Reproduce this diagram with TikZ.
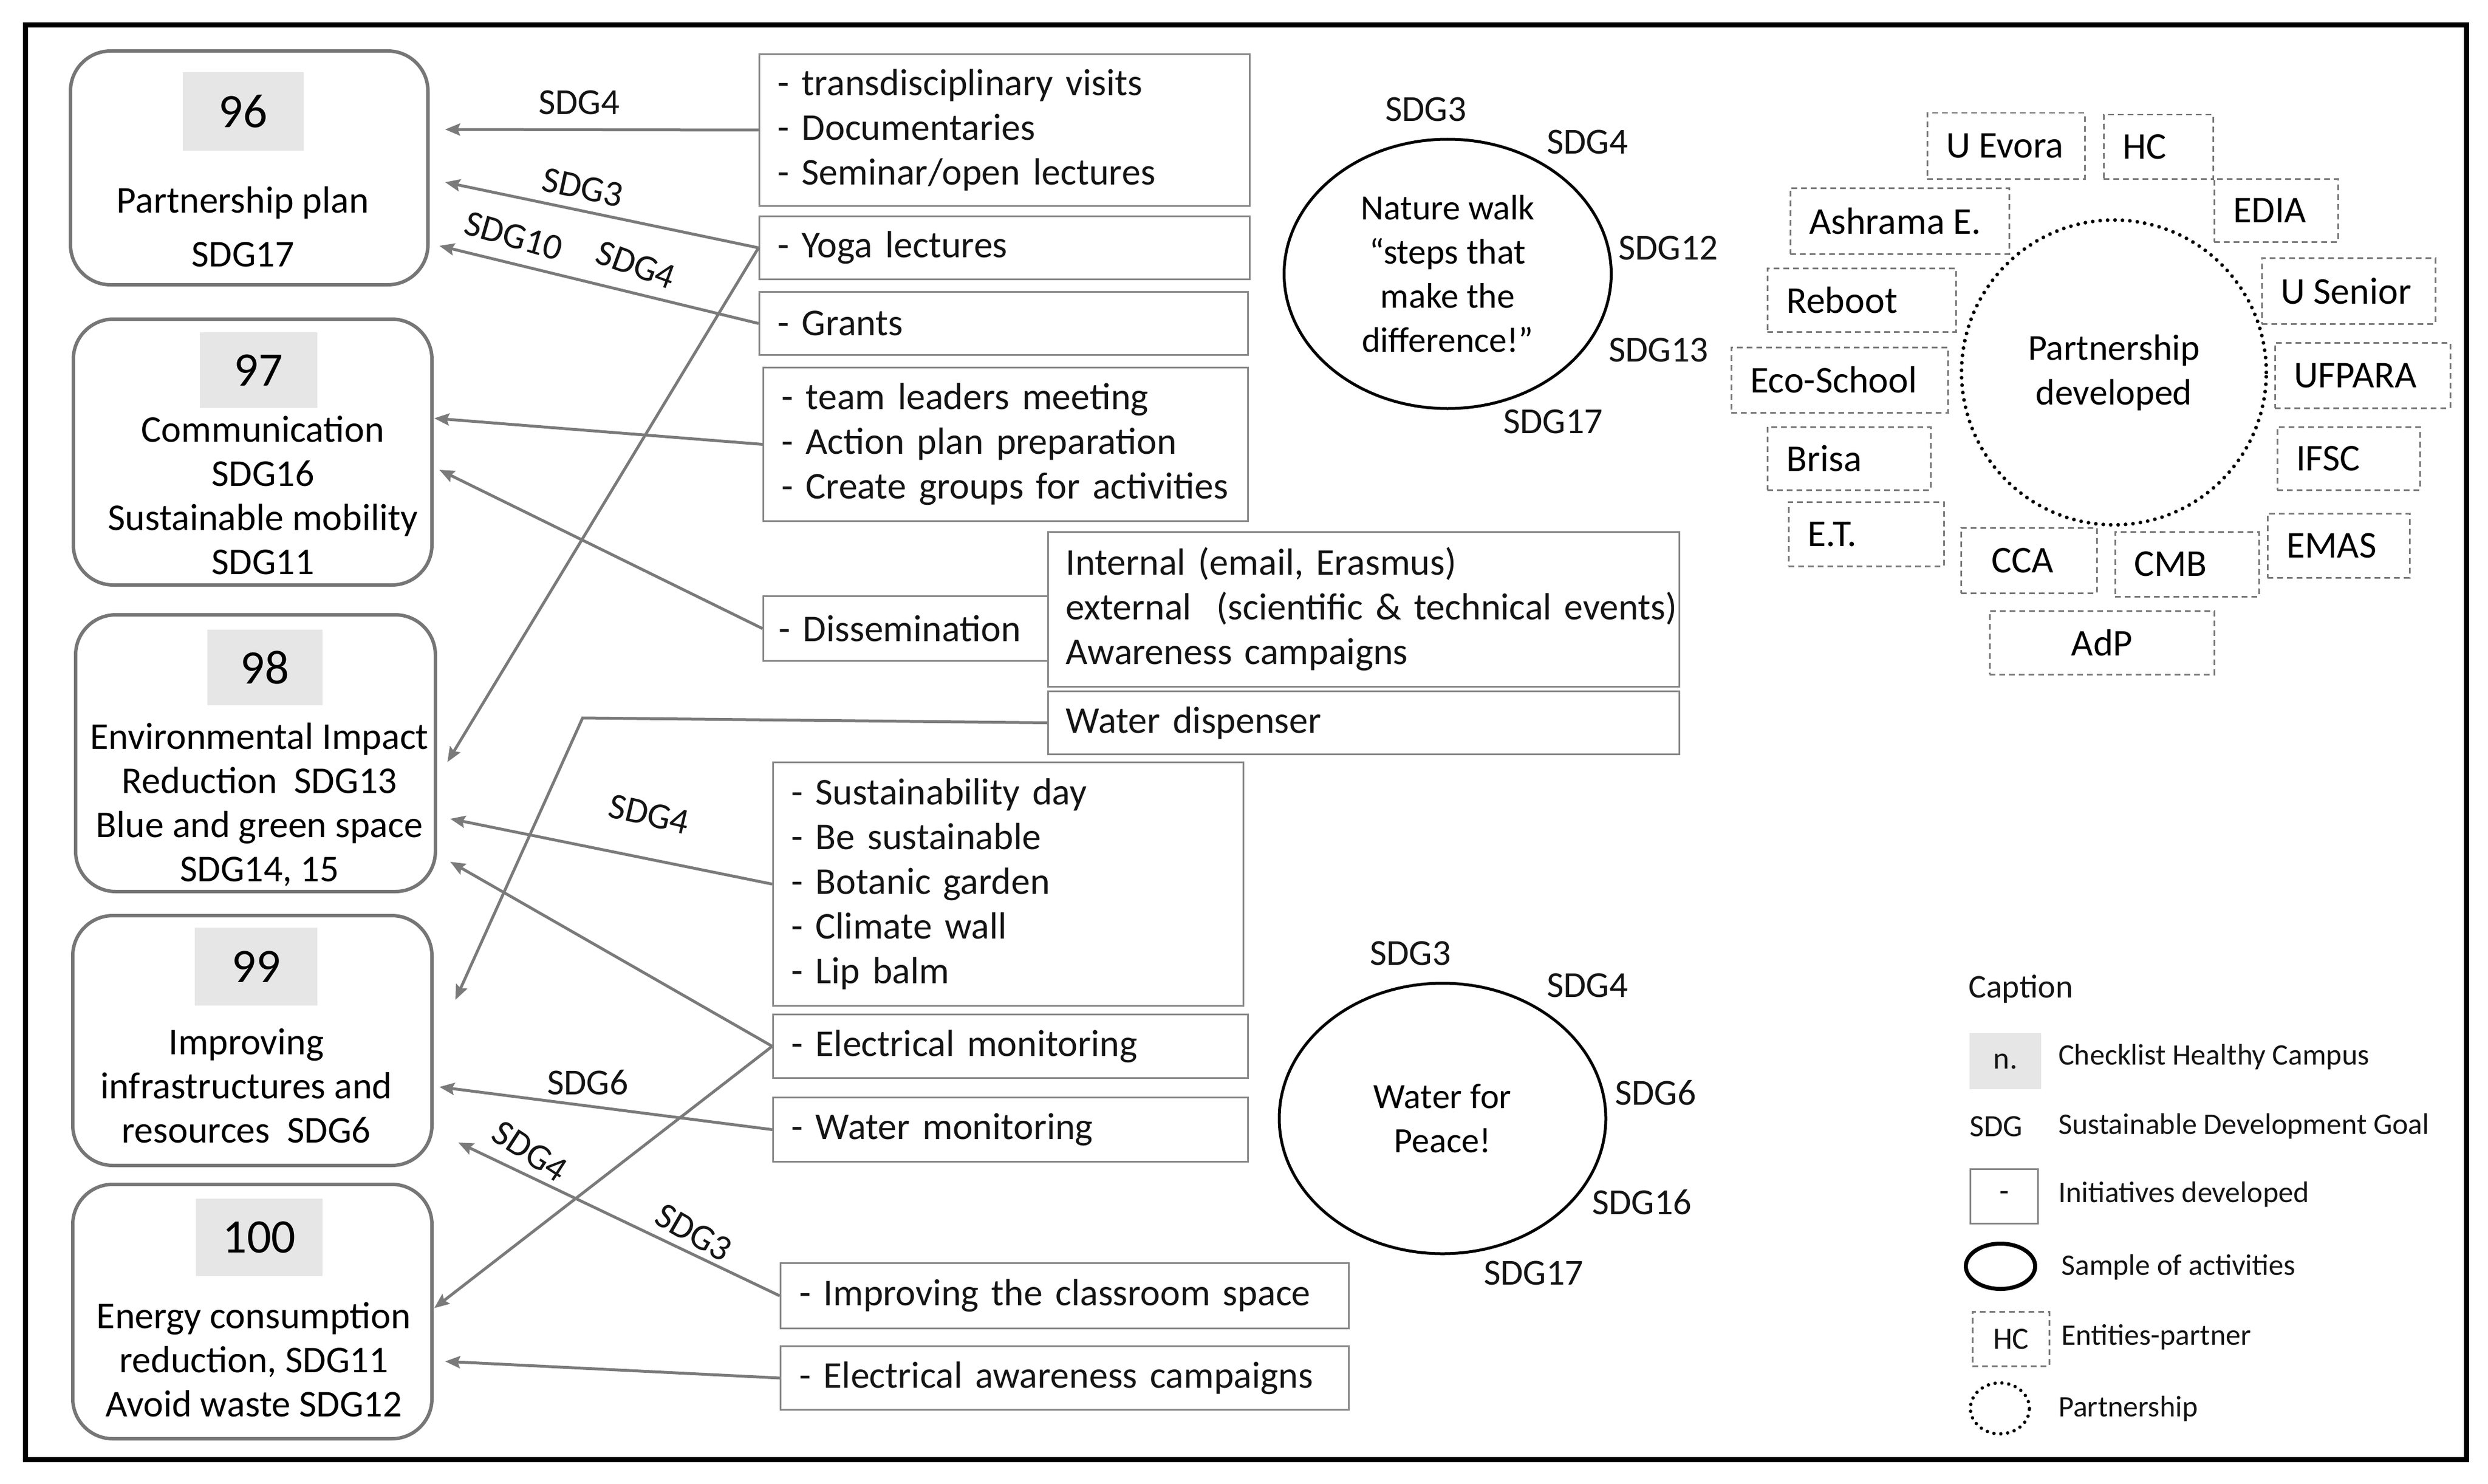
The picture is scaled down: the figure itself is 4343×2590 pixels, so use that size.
\documentclass[tikz,border=0pt]{standalone}
\usepackage{fontspec}
\setmainfont{Carlito}
\usetikzlibrary{arrows.meta,shapes.geometric}
\definecolor{linegray}{RGB}{122,122,122}
\definecolor{boxgray}{RGB}{136,136,136}
\definecolor{roundgray}{RGB}{118,118,118}
\definecolor{numgray}{RGB}{231,230,230}
\definecolor{txt}{RGB}{20,20,20}
\newcommand{\fsz}[2]{\fontsize{#1pt}{#2pt}\selectfont}
\begin{document}
\begin{tikzpicture}[x=1pt,y=-1pt,
  ibox/.style={draw=boxgray, line width=3pt, anchor=north west, align=left,
    inner xsep=32pt, inner ysep=0pt, text=txt, font={\fsz{66}{78}}},
  rbox/.style={draw=roundgray, line width=6pt, rounded corners=70pt, inner sep=0pt},
  numbox/.style={fill=numgray, inner sep=0pt, font={\fsz{84}{84}}},
  desc/.style={align=center, inner sep=0pt, font={\fsz{66}{77}}},
  conn/.style={draw=linegray, line width=5pt, -{Stealth[length=26pt,width=21pt,inset=4pt]}},
  sdg/.style={font={\fsz{64}{64}}, inner sep=0pt, text=txt},
  act/.style={ellipse, draw=black, line width=5pt, align=center, inner sep=0pt, font={\fsz{62}{77}}},
  ent/.style={draw=linegray, line width=2.5pt, dash pattern=on 10pt off 7pt, anchor=north west,
    inner xsep=33pt, inner ysep=0pt, font={\fsz{66}{66}}},
  dotc/.style={draw=black, line width=6.5pt, dash pattern=on 0pt off 13pt, line cap=round},
  leg/.style={anchor=west, inner sep=0pt, text=txt, font={\fsz{52}{52}}}
]
\fill[white] (0,0) rectangle (4343,2590);
\useasboundingbox (0,0) rectangle (4343,2590);
\draw[line width=9pt] (44,44) rectangle (4305,2547);

% ---------- left rounded boxes ----------
\node[rbox, minimum width=624pt, minimum height=408pt] (b96) at (435,293) {};
\node[numbox, minimum width=211pt, minimum height=137pt] (n96) at (424.5,194.5) {96};
\node[desc] (d96) at (424,396) {Partnership plan\\[17pt]SDG17};

\node[rbox, minimum width=626pt, minimum height=464pt] (b97) at (441,789) {};
\node[numbox, minimum width=205pt, minimum height=132pt] (n97) at (451.5,646) {97};
\node[desc] (d97) at (459,864) {Communication\\SDG16\\Sustainable mobility\\SDG11};

\node[rbox, minimum width=628pt, minimum height=483pt] (b98) at (446,1314.5) {};
\node[numbox, minimum width=201pt, minimum height=132pt] (n98) at (462.5,1165) {98};
\node[desc] (d98) at (453,1404) {Environmental Impact\\Reduction\ \ SDG13\\Blue and green space\\SDG14, 15};

\node[rbox, minimum width=627pt, minimum height=436pt] (b99) at (440.5,1816) {};
\node[numbox, minimum width=214pt, minimum height=136pt] (n99) at (447,1687) {99};
\node[desc] (d99) at (430,1895) {Improving\\infrastructures and\\resources\ \ SDG6};

\node[rbox, minimum width=627pt, minimum height=444pt] (b100) at (440.5,2289) {};
\node[numbox, minimum width=221pt, minimum height=135pt] (n100) at (452.5,2159.5) {100};
\node[desc] (d100) at (443,2373) {Energy consumption\\reduction, SDG11\\Avoid waste SDG12};

% ---------- initiative boxes ----------
\node[ibox, text width=792pt, minimum height=265pt] (tv) at (1324,93)
  {- transdisciplinary visits\\- Documentaries\\- Seminar/open lectures};
\node[ibox, text width=792pt, minimum height=110pt] (yoga) at (1324,376) {- Yoga lectures};
\node[ibox, text width=789pt, minimum height=110pt] (grants) at (1324,508) {- Grants};
\node[ibox, text width=782pt, minimum height=268pt] (team) at (1331,640)
  {- team leaders meeting\\- Action plan preparation\\- Create groups for activities};
\node[ibox, inner xsep=27pt, text width=443pt, minimum height=113pt] (diss) at (1331,1039) {- Dissemination};
\node[ibox, inner xsep=31pt, text width=1040pt, minimum height=270pt] (intl) at (1828,927)
  {Internal (email, Erasmus)\\\mbox{external\ \ (scientific \& technical events)}\\Awareness campaigns};
\node[ibox, inner xsep=31pt, text width=1040pt, minimum height=110pt] (wdisp) at (1828,1205) {Water dispenser};
\node[ibox, text width=757pt, minimum height=425pt] (sust) at (1348,1329)
  {- Sustainability day\\- Be sustainable\\- Botanic garden\\- Climate wall\\- Lip balm};
\node[ibox, text width=765pt, minimum height=111pt] (emon) at (1348,1769) {- Electrical monitoring};
\node[ibox, text width=765pt, minimum height=112pt] (wmon) at (1348,1914) {- Water monitoring};
\node[ibox, inner xsep=33pt, text width=926pt, minimum height=114pt] (class) at (1361,2203) {- Improving the classroom space};
\node[ibox, inner xsep=33pt, text width=926pt, minimum height=111pt] (eaw) at (1361,2348) {- Electrical awareness campaigns};

% ---------- arrow end points ----------
\coordinate (t1) at (777,226);
\coordinate (t2) at (777,318);
\coordinate (t3) at (767,429);
\coordinate (t4) at (758,730);
\coordinate (t5) at (767,820);
\coordinate (t6) at (781,1330);
\coordinate (c7) at (1017,1253);
\coordinate (t7) at (795,1745);
\coordinate (t8) at (786,1429);
\coordinate (t9) at (786,1504);
\coordinate (t10) at (758,2283);
\coordinate (t11) at (767,1897);
\coordinate (t12) at (800,1994);
\coordinate (t13) at (777,2376);

\draw[conn] (tv.west) -- (t1);
\draw[conn] (yoga.west) -- (t2);
\draw[conn] (grants.west) -- (t3);
\draw[conn] (team.west) -- (t4);
\draw[conn] (diss.west) -- (t5);
\draw[conn] (yoga.west) -- (t6);
\draw[conn] (wdisp.west) -- (c7) -- (t7);
\draw[conn] (sust.west) -- (t8);
\draw[conn] (emon.west) -- (t9);
\draw[conn] (emon.west) -- (t10);
\draw[conn] (wmon.west) -- (t11);
\draw[conn] (class.west) -- (t12);
\draw[conn] (eaw.west) -- (t13);

% ---------- arrow labels ----------
\node[sdg] (l1) at (1011,179) {SDG4};
\node[sdg, rotate=-12] (l2) at (1017,327) {SDG3};
\node[sdg, rotate=-16] (l3) at (897,412) {SDG10};
\node[sdg, rotate=-20] (l4) at (1110,462) {SDG4};
\node[sdg, rotate=-13] (l5) at (1133,1421) {SDG4};
\node[sdg] (l6) at (1026,1889) {SDG6};
\node[sdg, rotate=-33] (l7) at (925,2009) {SDG4};
\node[sdg, rotate=-30] (l8) at (1211,2151) {SDG3};

% ---------- activity ellipses ----------
\node[act, minimum width=571pt, minimum height=470pt] (nw) at (2527,478)
  {Nature walk\\“steps that\\make the\\difference!”};
\node[sdg] (nw3) at (2489,191) {SDG3};
\node[sdg] (nw4) at (2771,248) {SDG4};
\node[sdg] (nw12) at (2912,433) {SDG12};
\node[sdg] (nw13) at (2895,611) {SDG13};
\node[sdg] (nw17) at (2711,736) {SDG17};

\node[act, minimum width=570pt, minimum height=472pt] (wp) at (2518,1952) {Water for\\Peace!};
\node[sdg] (wp3) at (2462,1664) {SDG3};
\node[sdg] (wp4) at (2771,1720) {SDG4};
\node[sdg] (wp6) at (2890,1907) {SDG6};
\node[sdg] (wp16) at (2866,2098) {SDG16};
\node[sdg] (wp17) at (2677,2222) {SDG17};

% ---------- partnership ----------
\node[circle, dotc, minimum size=532pt, align=center, inner sep=0pt, font={\fsz{64}{78}}] (pc) at (3690,650)
  {Partnership\\developed};
\node[ent, minimum width=275pt, minimum height=115pt] (eUE) at (3363,196) {\makebox[209pt][l]{U Evora}};
\node[ent, minimum width=191pt, minimum height=112pt] (eHC) at (3671,199) {\makebox[125pt][l]{HC}};
\node[ent, minimum width=382pt, minimum height=115pt] (eAE) at (3124,327) {\makebox[316pt][l]{Ashrama E.}};
\node[ent, minimum width=216pt, minimum height=110pt] (eED) at (3864,311) {\makebox[150pt][l]{EDIA}};
\node[ent, minimum width=329pt, minimum height=111pt] (eRB) at (3084,467) {\makebox[263pt][l]{Reboot}};
\node[ent, minimum width=303pt, minimum height=115pt] (eUS) at (3947,449) {\makebox[237pt][l]{U Senior}};
\node[ent, minimum width=378pt, minimum height=114pt] (eES) at (3021,605) {\makebox[312pt][l]{Eco-School}};
\node[ent, minimum width=306pt, minimum height=114pt] (eUF) at (3970,597) {\makebox[240pt][l]{UFPARA}};
\node[ent, minimum width=285pt, minimum height=110pt] (eBR) at (3084,744) {\makebox[219pt][l]{Brisa}};
\node[ent, minimum width=249pt, minimum height=110pt] (eIF) at (3974,744) {\makebox[183pt][l]{IFSC}};
\node[ent, minimum width=271pt, minimum height=112pt] (eET) at (3121,875) {\makebox[205pt][l]{E.T.}};
\node[ent, inner xsep=53pt, minimum width=237pt, minimum height=114pt] (eCC) at (3422,920) {\makebox[131pt][l]{CCA}};
\node[ent, minimum width=251pt, minimum height=113pt] (eCM) at (3691,927) {\makebox[185pt][l]{CMB}};
\node[ent, minimum width=248pt, minimum height=112pt] (eEM) at (3957,895) {\makebox[182pt][l]{EMAS}};
\node[ent, minimum width=392pt, minimum height=111pt] (eAD) at (3472,1065) {\makebox[326pt][c]{AdP}};

% ---------- caption ----------
\node[leg, font={\fsz{58}{58}}] (capt) at (3436,1726) {Caption};
\node[fill=numgray, anchor=north west, inner sep=0pt, minimum width=125pt, minimum height=98pt,
  text=txt, font={\fsz{54}{54}}] (lg1) at (3438,1803) {n.};
\node[leg] (lt1) at (3593,1845) {Checklist Healthy Campus};
\node[leg, font={\fsz{54}{54}}] (lg2) at (3438,1966) {SDG};
\node[leg] (lt2) at (3593,1966) {Sustainable Development Goal};
\node[draw=boxgray, line width=3pt, anchor=north west, inner sep=0pt, minimum width=118pt,
  minimum height=95pt, text=txt, font={\fsz{54}{54}}] (lg3) at (3438,2039) {-};
\node[leg] (lt3) at (3593,2085) {Initiatives developed};
\node[ellipse, draw=black, line width=7pt, inner sep=0pt, minimum width=121pt, minimum height=79pt] (lg4) at (3492,2210) {};
\node[leg] (lt4) at (3598,2212) {Sample of activities};
\node[draw=linegray, line width=2.5pt, dash pattern=on 10pt off 7pt, anchor=north west, inner sep=0pt,
  minimum width=134pt, minimum height=95pt, text=txt, font={\fsz{54}{54}}] (lg5) at (3442,2288) {HC};
\node[leg] (lt5) at (3598,2334) {Entities-partner};
\node[ellipse, draw=black, line width=6pt, dash pattern=on 0pt off 12pt, line cap=round, inner sep=0pt,
  minimum width=103pt, minimum height=89pt] (lg6) at (3491,2458) {};
\node[leg] (lt6) at (3593,2459) {Partnership};
\end{tikzpicture}
\end{document}
